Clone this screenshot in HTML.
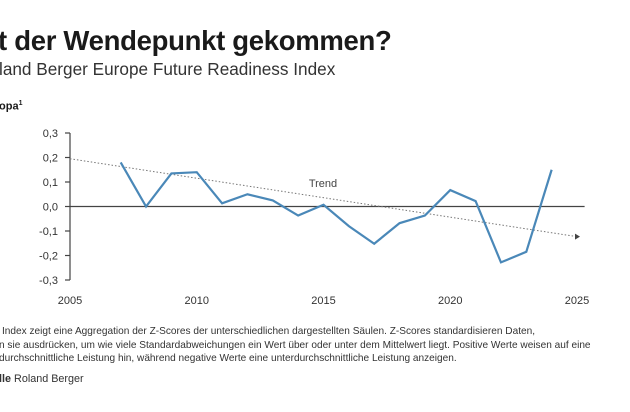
<!DOCTYPE html>
<html><head><meta charset="utf-8"><style>
body{margin:0;width:630px;height:412px;overflow:hidden;background:#fff;font-family:"Liberation Sans",sans-serif;color:#1a1a1a;position:relative}
.t{position:absolute;white-space:nowrap}
</style></head><body>
<div class="t" style="left:-2px;top:25px;font-size:27.5px;font-weight:bold;letter-spacing:-0.3px">t der Wendepunkt gekommen?</div>
<div class="t" style="left:-1px;top:59px;font-size:17.2px;color:#333">land Berger Europe Future Readiness Index</div>
<div class="t" style="left:-1px;top:100px;font-size:11px;font-weight:bold">opa<sup style="font-size:7px">1</sup></div>
<svg width="630" height="412" style="position:absolute;left:0;top:0">
<g id="g"></g>
</svg>
<div class="t" style="left:2px;top:326px;font-size:10.1px;color:#333">Index zeigt eine Aggregation der Z-Scores der unterschiedlichen dargestellten Säulen. Z-Scores standardisieren Daten,</div>
<div class="t" style="left:-1px;top:340px;font-size:10.1px;color:#333">n sie ausdrücken, um wie viele Standardabweichungen ein Wert über oder unter dem Mittelwert liegt. Positive Werte weisen auf eine</div>
<div class="t" style="left:-1px;top:353px;font-size:10.1px;color:#333">durchschnittliche Leistung hin, während negative Werte eine unterdurchschnittliche Leistung anzeigen.</div>
<div class="t" style="left:-1px;top:373px;font-size:10.8px;color:#333"><b>lle</b> Roland Berger</div>
<script>
const years=[2007,2008,2009,2010,2011,2012,2013,2014,2015,2016,2017,2018,2019,2020,2021,2022,2023,2024];
const values=[0.18,0.0,0.135,0.14,0.013,0.05,0.025,-0.037,0.007,-0.08,-0.152,-0.068,-0.037,0.067,0.022,-0.228,-0.185,0.15];
const trendYears=[2005,2025];
const trendValues=[0.195,-0.123];
const xTicks=[2005,2010,2015,2020,2025];
const yTicks=[0.3,0.2,0.1,0.0,-0.1,-0.2,-0.3];
const X=y=>70+(y-2005)*25.35;
const Y=v=>206.5-v*245;
const g=document.getElementById('g');const ns='http://www.w3.org/2000/svg';
function mk(t,a){const e=document.createElementNS(ns,t);for(const k in a)e.setAttribute(k,a[k]);g.appendChild(e);return e;}
let ax=mk('line',{x1:X(2005),x2:X(2005),y1:Y(0.3),y2:Y(-0.3),stroke:'#444','stroke-width':1.2});


yTicks.forEach(v=>{
 const tk=mk('line',{x1:X(2005)-5,x2:X(2005),y1:Y(v),y2:Y(v),stroke:'#444','stroke-width':1.2});
 
 
 const t=mk('text',{x:X(2005)-12,y:Y(v)+4,'text-anchor':'end','font-size':11,fill:'#333'});
 t.textContent=v.toFixed(1).replace('.',',');
 
 
});
xTicks.forEach(y=>{
 const t=mk('text',{x:X(y),y:304,'text-anchor':'middle','font-size':11,fill:'#333'});
 t.textContent=y;
 
 
});
const z=mk('line',{x1:X(2005),x2:X(2025.3),y1:Y(0),y2:Y(0),stroke:'#444','stroke-width':1.3});


const tr=mk('line',{x1:X(trendYears[0]),y1:Y(trendValues[0]),x2:X(trendYears[1]),y2:Y(trendValues[1]),stroke:'#777','stroke-width':1,'stroke-dasharray':'1.5 2'});


const ex=X(trendYears[1]),ey=Y(trendValues[1]);
const ar=mk('polygon',{points:`${ex+3},${ey} ${ex-2},${ey-3} ${ex-2},${ey+3}`,fill:'#444'});


const tl=mk('text',{x:323,y:187,'text-anchor':'middle','font-size':11,fill:'#444'});
tl.textContent='Trend';


const p=mk('polyline',{points:years.map((y,i)=>X(y)+','+Y(values[i])).join(' '),fill:'none',stroke:'#4a88b8','stroke-width':2.2,'stroke-linejoin':'miter'});


</script>
</body></html>
